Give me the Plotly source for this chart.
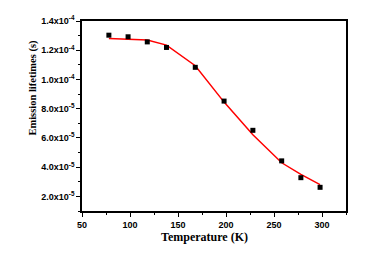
import plotly.graph_objects as go

temperature = [78, 98, 118, 138, 168, 198, 228, 258, 278, 298]
lifetime = [1.303e-4, 1.292e-4, 1.257e-4, 1.219e-4, 1.083e-4, 0.852e-4,
            0.652e-4, 0.443e-4, 0.328e-4, 0.262e-4]
fit_lifetime = [1.281e-4, 1.276e-4, 1.270e-4, 1.235e-4, 1.094e-4, 0.845e-4,
                0.621e-4, 0.430e-4, 0.350e-4, 0.280e-4]

x_ticks = [50, 100, 150, 200, 250, 300]
y_ticks = [2e-5, 4e-5, 6e-5, 8e-5, 1.0e-4, 1.2e-4, 1.4e-4]
y_ticktext = ["2.0x10<sup>-5</sup>", "4.0x10<sup>-5</sup>", "6.0x10<sup>-5</sup>",
              "8.0x10<sup>-5</sup>", "1.0x10<sup>-4</sup>", "1.2x10<sup>-4</sup>",
              "1.4x10<sup>-4</sup>"]

fig = go.Figure()
fig.add_trace(go.Scatter(x=temperature, y=fit_lifetime, mode="lines",
                         line=dict(color="#ff0000", width=1.5), showlegend=False))
fig.add_trace(go.Scatter(x=temperature, y=lifetime, mode="markers",
                         marker=dict(symbol="square", color="black", size=5),
                         showlegend=False))

tickfont = dict(family="Liberation Sans", size=9, color="black", weight="bold")

fig.update_layout(
    width=375, height=248,
    margin=dict(l=74, r=37, t=6, b=45),
    paper_bgcolor="white", plot_bgcolor="white",
    xaxis=dict(range=[50, 325], tickvals=x_ticks, ticks="outside", ticklen=4,
               tickwidth=1, tickcolor="black", showline=True, linecolor="black",
               linewidth=1.5, mirror=True, showgrid=False, zeroline=False,
               tickfont=tickfont,
               minor=dict(dtick=25, tick0=50, ticks="outside", ticklen=2,
                          tickcolor="black", showgrid=False)),
    yaxis=dict(range=[1e-5, 1.4e-4], tickvals=y_ticks, ticktext=y_ticktext,
               ticks="outside", ticklen=4, tickwidth=1, tickcolor="black",
               showline=True, linecolor="black", linewidth=1.5, mirror=True,
               showgrid=False, zeroline=False, tickfont=tickfont,
               minor=dict(dtick=1e-5, tick0=0, ticks="outside", ticklen=2,
                          tickcolor="black", showgrid=False)),
    annotations=[
        dict(text="<b>Temperature (K)</b>", xref="paper", yref="paper",
             x=(204 - 82) / 264, y=(211 - 238) / 197, xanchor="center",
             yanchor="middle", showarrow=False,
             font=dict(family="Liberation Serif", size=12, color="black")),
        dict(text="<b>Emission lifetimes (s)</b>", xref="paper", yref="paper",
             x=(33 - 82) / 264, y=(211 - 83) / 197, xanchor="center",
             yanchor="middle", showarrow=False, textangle=-90,
             font=dict(family="Liberation Serif", size=10.5, color="black")),
    ],
)

fig.write_html("out.html")
